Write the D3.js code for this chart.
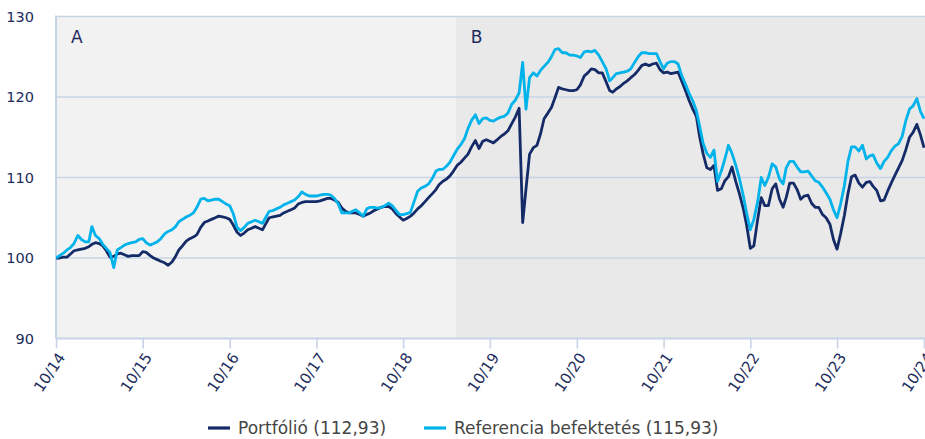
<!DOCTYPE html>
<html><head><meta charset="utf-8">
<script src="https://cdn.jsdelivr.net/npm/d3@7"></script>
<style>
html,body{margin:0;padding:0;background:#fff;}
svg{display:block;font-family:"DejaVu Sans",Verdana,sans-serif;}
</style></head>
<body>
<svg id="chart" width="925" height="439"></svg>
<script>
// ---- data (semi-monthly readings, 1st and 16th of each month, from 2014-10-01 to 2024-10-01)
const startDate = "2014-10-01";
const portfolio = [
100.0,100.0,100.1,100.1,100.5,100.9,101.0,101.1,101.2,101.4,
101.7,101.9,101.8,101.5,100.9,100.1,100.2,100.5,100.6,100.4,
100.2,100.3,100.3,100.3,100.8,100.7,100.3,100.0,99.8,99.6,
99.4,99.1,99.5,100.2,101.0,101.5,102.1,102.4,102.6,102.9,
103.8,104.4,104.6,104.8,105.0,105.2,105.1,105.0,104.8,104.1,
103.2,102.8,103.1,103.5,103.7,103.9,103.7,103.5,104.2,105.0,
105.1,105.2,105.3,105.6,105.8,106.0,106.2,106.7,106.9,107.0,
107.0,107.0,107.0,107.1,107.25,107.4,107.4,107.2,106.9,106.2,
105.8,105.6,105.6,105.6,105.4,105.2,105.4,105.6,105.9,106.1,
106.3,106.4,106.4,106.1,105.5,105.1,104.7,104.9,105.2,105.6,
106.1,106.5,107.0,107.5,108.0,108.5,109.1,109.5,109.8,110.2,
110.8,111.5,111.9,112.4,112.9,113.8,114.6,113.6,114.5,114.7,
114.5,114.3,114.7,115.1,115.4,115.8,116.7,117.5,118.6,104.4,
108.6,112.9,113.7,114.0,115.4,117.3,118.0,118.7,119.9,121.2,
121.0,120.9,120.8,120.8,120.9,121.5,122.6,123.0,123.5,123.4,
123.0,123.0,121.9,120.8,120.6,121.0,121.3,121.7,122.0,122.4,
122.8,123.3,123.9,124.1,123.9,124.1,124.2,123.4,123.0,123.1,
122.9,123.0,123.1,122.0,120.8,119.6,118.5,117.6,115.2,113.0,
111.2,111.0,111.5,108.4,108.6,109.6,110.1,111.3,109.5,108.0,
106.2,104.0,101.2,101.5,104.8,107.5,106.5,106.5,108.6,109.2,
107.3,106.3,107.5,109.3,109.3,108.5,107.3,107.7,107.8,106.8,
106.3,106.3,105.4,105.0,104.2,102.3,101.1,103.0,105.3,108.0,
110.1,110.3,109.3,108.8,109.4,109.5,108.9,108.4,107.1,107.2,
108.3,109.3,110.3,111.2,112.1,113.4,115.0,115.6,116.6,115.3,
113.7];
const benchmark = [
100.0,100.3,100.6,101.0,101.3,101.8,102.8,102.3,102.0,102.0,
103.9,102.8,102.4,101.7,101.2,100.7,98.8,101.0,101.3,101.6,
101.8,101.9,102.0,102.3,102.4,101.9,101.6,101.8,102.0,102.4,
103.0,103.3,103.5,103.9,104.5,104.8,105.1,105.3,105.6,106.3,
107.3,107.4,107.1,107.2,107.3,107.3,107.0,106.7,106.5,105.5,
103.8,103.4,103.8,104.3,104.5,104.7,104.5,104.3,105.0,105.8,
105.9,106.1,106.3,106.6,106.8,107.0,107.2,107.6,108.2,107.9,
107.7,107.7,107.7,107.8,107.9,107.9,107.8,107.4,106.7,105.6,
105.6,105.6,105.8,106.0,105.6,105.2,106.1,106.3,106.3,106.2,
106.3,106.5,106.8,106.5,105.9,105.4,105.4,105.5,105.7,107.0,
108.3,108.7,108.9,109.2,109.9,110.8,111.0,111.0,111.4,111.9,
112.7,113.5,114.1,114.8,116.1,117.1,117.8,116.7,117.3,117.4,
117.1,117.0,117.3,117.5,117.6,118.0,119.1,119.6,120.5,124.3,
118.5,122.4,123.0,122.6,123.3,123.8,124.3,125.0,125.9,126.0,
125.5,125.5,125.2,125.2,125.1,124.9,125.6,125.7,125.6,125.8,
125.2,124.4,123.5,122.0,122.4,122.9,123.0,123.1,123.2,123.5,
124.3,125.0,125.5,125.5,125.4,125.4,125.4,124.4,123.5,124.2,
124.4,124.4,124.1,122.7,121.6,120.5,119.5,118.3,116.5,114.3,
113.0,112.5,113.4,109.5,110.8,112.3,114.0,113.0,111.5,109.9,
107.8,105.5,103.5,104.8,107.0,110.0,109.0,110.0,111.7,111.3,
109.8,109.2,111.2,112.0,112.0,111.3,110.7,110.7,110.8,110.2,
109.6,109.4,108.8,108.1,107.3,106.0,105.0,106.7,109.0,112.0,
113.8,113.8,113.3,114.0,112.3,112.7,112.8,111.8,111.1,112.0,
112.5,113.3,113.9,114.2,115.1,117.0,118.5,118.9,119.8,118.2,
117.3];
const seriesNames = ["Portfólió (112,93)", "Referencia befektetés (115,93)"];
const yTicks = [90, 100, 110, 120, 130];
const xTickDates = ["2014-10-01","2015-10-01","2016-10-01","2017-10-01","2018-10-01","2019-10-01","2020-10-01","2021-10-01","2022-10-01","2023-10-01","2024-10-01"];
const periods = [{label:"A", start:"2014-10-01", end:"2019-05-10"},{label:"B", start:"2019-05-10", end:"2024-10-20"}];

// ---- setup
const parse = d3.timeParse("%Y-%m-%d");
const s0 = parse(startDate);
const dateAt = i => new Date(s0.getFullYear(), s0.getMonth() + Math.floor(i/2), i % 2 ? 16 : 1);
const rows = portfolio.map((v,i) => ({date: dateAt(i), p: v, b: benchmark[i]}));

const W = 925, H = 439;
const L = 56, R = 924, T = 16.5, B = 338.5;
const x = d3.scaleTime().domain([parse("2014-10-01"), parse("2024-10-01")]).range([L, R]);
const y = d3.scaleLinear().domain([90, 130]).range([B, T]);

const svg = d3.select("#chart");
const gridCol = "#c8d4e6", textCol = "#1c2c5c";
const colP = "#142b68", colB = "#00b3ea";

// backgrounds
svg.selectAll("rect.period").data(periods).join("rect")
  .attr("class","period")
  .attr("x", d => x(parse(d.start)))
  .attr("y", T)
  .attr("width", d => Math.min(W, x(parse(d.end))) - x(parse(d.start)))
  .attr("height", B - T)
  .attr("fill", (d,i) => i === 0 ? "#f2f2f2" : "#e9e9e9");

svg.selectAll("text.period").data(periods).join("text")
  .attr("class","period")
  .attr("x", d => x(parse(d.start)) + 15)
  .attr("y", 43)
  .attr("fill", textCol)
  .attr("font-size", 17)
  .text(d => d.label);

// grid lines
svg.selectAll("line.grid").data(yTicks).join("line")
  .attr("class","grid")
  .attr("x1", L).attr("x2", W)
  .attr("y1", d => y(d)).attr("y2", d => y(d))
  .attr("stroke", gridCol).attr("stroke-width", d => d === 90 ? 2.2 : 1.6);
svg.append("line").attr("x1", L).attr("x2", L).attr("y1", T - 1).attr("y2", B)
  .attr("stroke", gridCol).attr("stroke-width", 2);

// y labels
svg.selectAll("text.ylab").data(yTicks).join("text")
  .attr("class","ylab")
  .attr("x", 34).attr("y", d => y(d)).attr("dy", "0.36em")
  .attr("text-anchor","end").attr("fill", textCol).attr("font-size", 14.5)
  .text(d => d);

// x axis
const xAxis = d3.axisBottom(x)
  .tickValues(xTickDates.map(parse))
  .tickFormat(d3.timeFormat("%m/%y"))
  .tickSize(10).tickSizeOuter(0);
const gx = svg.append("g").attr("transform", `translate(0,${B})`).call(xAxis);
gx.select(".domain").remove();
gx.selectAll(".tick line").attr("stroke", gridCol).attr("stroke-width", 1.6);
gx.selectAll(".tick text")
  .attr("fill", textCol).attr("font-size", 15)
  .attr("font-family", '"DejaVu Sans",Verdana,sans-serif')
  .attr("text-anchor","end")
  .attr("x", 0).attr("y", 0).attr("dy", "0.35em")
  .attr("transform", "translate(5,16) rotate(-56)");

// lines
svg.append("defs").append("clipPath").attr("id","clip")
  .append("rect").attr("x", L).attr("y", 0).attr("width", W - L).attr("height", B);
const lineP = d3.line().x(d => x(d.date)).y(d => y(d.p));
const lineB = d3.line().x(d => x(d.date)).y(d => y(d.b));
const gl = svg.append("g").attr("clip-path","url(#clip)");
gl.append("path").datum(rows).attr("d", lineP)
  .attr("fill","none").attr("stroke", colP).attr("stroke-width", 2.8).attr("stroke-linejoin","round");
gl.append("path").datum(rows).attr("d", lineB)
  .attr("fill","none").attr("stroke", colB).attr("stroke-width", 2.8).attr("stroke-linejoin","round");

// legend
const legend = [{name: seriesNames[0], color: colP, x: 208}, {name: seriesNames[1], color: colB, x: 424}];
const lg = svg.selectAll("g.leg").data(legend).join("g").attr("class","leg")
  .attr("transform", d => `translate(${d.x},428)`);
lg.append("line").attr("x1",0).attr("x2",22).attr("y1",0).attr("y2",0)
  .attr("stroke", d => d.color).attr("stroke-width", 3.2);
lg.append("text").attr("x", 30).attr("y", 0).attr("dy","0.36em")
  .attr("font-size", 17).attr("fill", "#454545").text(d => d.name);
</script>
</body></html>
